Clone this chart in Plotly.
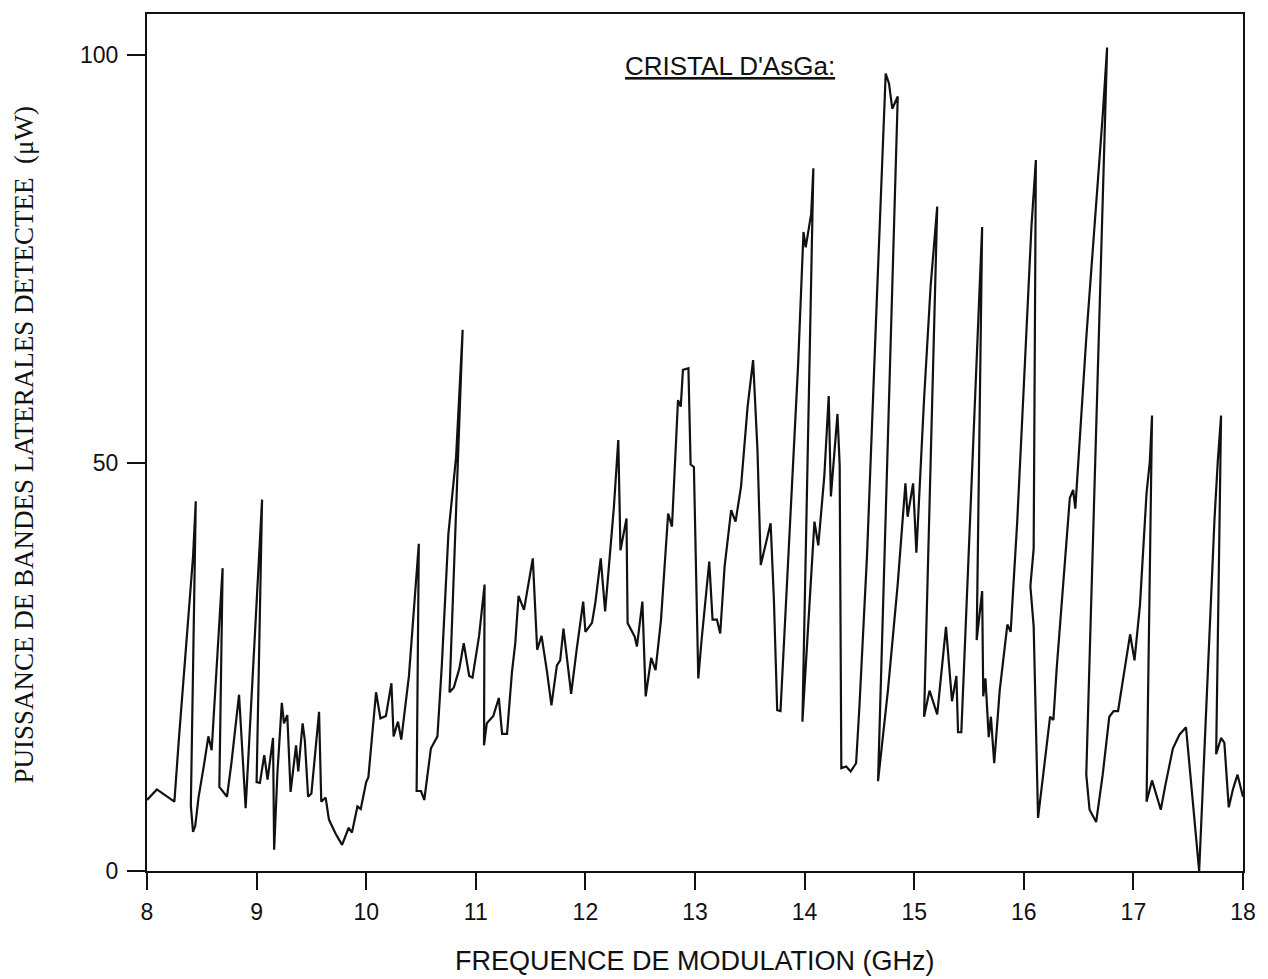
import plotly.graph_objects as go

# Recorder trace: modulation frequency (GHz) vs detected sideband power (µW).
# Points are kept in pen order, so the frequency sometimes steps back on a fall.
freq_ghz = [
    8.00, 8.09, 8.25, 8.29, 8.42, 8.445, 8.40, 8.42, 8.44, 8.47, 8.52, 8.56, 8.59,
    8.65, 8.69, 8.66, 8.73, 8.77, 8.84, 8.90, 8.98, 9.01, 9.05, 9.00, 9.03, 9.07,
    9.10, 9.15, 9.16, 9.19, 9.23, 9.25, 9.28, 9.31, 9.36, 9.38, 9.42, 9.44, 9.47,
    9.50, 9.57, 9.59, 9.63, 9.66, 9.72, 9.78, 9.84, 9.87, 9.92, 9.95, 10.00, 10.02,
    10.06, 10.09, 10.13, 10.18, 10.23, 10.25, 10.29, 10.32, 10.39, 10.445, 10.48,
    10.46, 10.50, 10.53, 10.59, 10.65, 10.69, 10.75, 10.82, 10.88, 10.76, 10.80,
    10.85, 10.89, 10.94, 10.97, 11.03, 11.08, 11.075, 11.10, 11.16, 11.21, 11.24,
    11.285, 11.33, 11.36, 11.39, 11.44, 11.48, 11.52, 11.56, 11.60, 11.65, 11.69,
    11.74, 11.77, 11.80, 11.87, 11.92, 11.98, 12.00, 12.06, 12.09, 12.14, 12.18,
    12.22, 12.26, 12.30, 12.32, 12.375, 12.385, 12.45, 12.47, 12.52, 12.55, 12.60,
    12.64, 12.69, 12.755, 12.79, 12.82, 12.845, 12.87, 12.89, 12.94, 12.96, 12.99,
    13.03, 13.06, 13.13, 13.16, 13.20, 13.23, 13.27, 13.33, 13.37, 13.42, 13.48,
    13.53, 13.57, 13.60, 13.65, 13.69, 13.72, 13.75, 13.78, 13.86, 13.94, 13.99,
    14.01, 14.06, 14.08, 13.98, 14.09, 14.125, 14.18, 14.22, 14.24, 14.30, 14.32,
    14.335, 14.38, 14.42, 14.47, 14.50, 14.57, 14.66, 14.74, 14.77, 14.80, 14.85,
    14.67, 14.76, 14.85, 14.92, 14.94, 14.99, 15.02, 15.09, 15.15, 15.21, 15.09,
    15.14, 15.21, 15.29, 15.345, 15.385, 15.40, 15.43, 15.50, 15.59, 15.62, 15.57,
    15.62, 15.63, 15.65, 15.68, 15.70, 15.73, 15.78, 15.85, 15.88, 15.94, 16.00,
    16.07, 16.11, 16.09, 16.06, 16.09, 16.13, 16.24, 16.27, 16.30, 16.42, 16.45,
    16.47, 16.57, 16.72, 16.76, 16.57, 16.60, 16.66, 16.72, 16.78, 16.82, 16.86,
    16.92, 16.97, 17.01, 17.06, 17.12, 17.15, 17.17, 17.12, 17.17, 17.25, 17.29,
    17.36, 17.42, 17.48, 17.60, 17.68, 17.74, 17.77, 17.80, 17.755, 17.80, 17.83,
    17.87, 17.91, 17.95, 18.00,
]
power_uw = [
    8.7, 10.0, 8.5, 16.0, 38.5, 45.3, 8.0, 4.8, 5.5, 9.0, 13.0, 16.5, 14.8,
    27.5, 37.1, 10.3, 9.1, 13.2, 21.6, 7.7, 27.5, 35.3, 45.5, 10.9, 10.8, 14.2,
    11.2, 16.3, 2.6, 12.0, 20.6, 18.1, 19.1, 9.7, 15.4, 12.2, 18.1, 16.0, 9.1,
    9.5, 19.5, 8.5, 9.0, 6.3, 4.6, 3.2, 5.3, 4.7, 7.9, 7.6, 10.9, 11.5,
    18.1, 21.9, 18.7, 19.0, 23.0, 16.5, 18.3, 16.1, 23.9, 33.3, 40.1,
    9.8, 9.8, 8.7, 15.0, 16.5, 25.2, 41.3, 50.7, 66.3, 21.9, 22.5,
    24.8, 27.9, 23.9, 23.7, 28.8, 35.1, 15.4, 18.1, 19.0, 21.2, 16.8,
    16.8, 24.4, 27.9, 33.7, 32.0, 35.1, 38.3, 27.1, 28.8, 24.4, 20.3,
    25.2, 25.8, 29.7, 21.7, 27.1, 33.0, 29.3, 30.4, 32.8, 38.3, 31.8,
    38.1, 44.6, 52.8, 39.3, 43.2, 30.4, 28.7, 27.5, 33.0, 21.4, 26.1,
    24.6, 30.8, 43.8, 42.2, 50.4, 57.7, 56.9, 61.4, 61.6, 49.8, 49.5,
    23.6, 28.3, 37.9, 30.8, 30.8, 29.1, 37.3, 44.2, 42.8, 47.1, 56.9,
    62.6, 51.6, 37.5, 40.2, 42.6, 33.2, 19.7, 19.6, 41.4, 61.8, 78.3,
    76.4, 80.5, 86.1, 18.3, 42.8, 39.9, 48.4, 58.2, 45.9, 56.0, 49.7,
    12.6, 12.8, 12.2, 13.2, 20.1, 38.8, 70.4, 97.7, 96.5, 93.4, 94.9,
    11.0, 22.1, 35.2, 47.5, 43.4, 47.5, 39.0, 57.8, 71.7, 81.4, 18.9,
    22.1, 19.2, 29.9, 20.8, 23.9, 17.0, 17.0, 39.0, 69.2, 78.9, 28.3,
    34.3, 21.4, 23.6, 16.4, 18.9, 13.2, 22.1, 30.2, 29.3, 42.8, 59.4,
    79.0, 87.1, 39.5, 34.9, 30.0, 6.5, 18.9, 18.5, 24.8, 45.7, 46.7,
    44.4, 65.3, 92.6, 100.9, 11.8, 7.5, 6.0, 11.8, 18.9, 19.6, 19.6,
    24.8, 29.0, 25.8, 32.6, 46.3, 50.2, 55.8, 8.5, 11.1, 7.5, 10.4,
    15.0, 16.7, 17.6, 0.0, 24.8, 43.1, 50.2, 55.8, 14.3, 16.3, 15.7,
    7.8, 10.1, 11.8, 9.1,
]

x_ticks = [8, 9, 10, 11, 12, 13, 14, 15, 16, 17, 18]
y_ticks = [0, 50, 100]

SANS = "Liberation Sans, Arial, sans-serif"
SERIF = "Liberation Serif, Times New Roman, serif"
INK = "#111111"

fig = go.Figure()
fig.add_trace(go.Scatter(
    x=freq_ghz, y=power_uw, mode="lines",
    line=dict(color=INK, width=2.2),
    hoverinfo="skip", showlegend=False,
))

axis_common = dict(
    showline=True, linecolor=INK, linewidth=2, mirror=True,
    ticks="outside", tickcolor=INK, tickwidth=2,
    showgrid=False, zeroline=False,
    tickfont=dict(family=SANS, size=23, color=INK),
)

fig.update_layout(
    width=1268, height=979,
    margin=dict(l=147, r=21, t=14, b=108),
    paper_bgcolor="white", plot_bgcolor="white",
    xaxis=dict(range=[8, 18], tickvals=x_ticks, ticklen=17,
               ticklabelstandoff=2, **axis_common),
    yaxis=dict(range=[0, 105], tickvals=y_ticks, ticklen=18,
               ticklabelstandoff=4, **axis_common),
    annotations=[
        dict(text="<u>CRISTAL D'AsGa:</u>", xref="paper", yref="paper",
             x=(732 - 147) / 1100, y=1, yshift=-(66 - 14),
             xanchor="center", yanchor="middle", showarrow=False,
             font=dict(family=SANS, size=26, color=INK)),
        dict(text="FREQUENCE DE MODULATION (GHz)", xref="paper", yref="paper",
             x=0.5, xshift=0, y=0, yshift=-(961 - 871),
             xanchor="center", yanchor="middle", showarrow=False,
             font=dict(family=SANS, size=27, color=INK)),
        dict(text="PUISSANCE DE BANDES LATERALES DETECTEE  (\u03bcW)",
             xref="paper", yref="paper", x=0, xshift=23 - 147, y=0.5, yshift=-3,
             xanchor="center", yanchor="middle", textangle=-90, showarrow=False,
             font=dict(family=SERIF, size=27, color=INK)),
    ],
)

fig.write_html("out.html")
